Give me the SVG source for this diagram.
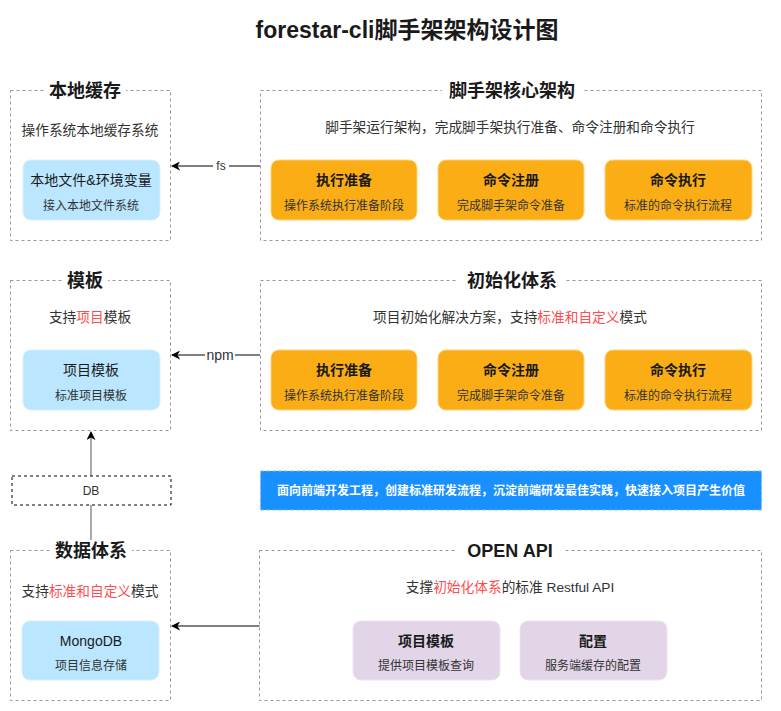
<svg xmlns="http://www.w3.org/2000/svg" width="781" height="711" viewBox="0 0 781 711">
<defs>
<style>
text{font-family:"Liberation Sans","Noto Sans CJK SC",sans-serif;text-anchor:middle;fill:#1a1a1a}
.cont{fill:#fff;stroke:#999;stroke-width:1;stroke-dasharray:3 3}
.ttl{font-size:18px;font-weight:bold}
.desc{font-size:13.7px;fill:#333}
.red{fill:#FF4D4F}
.blue{fill:#BAE7FF;stroke:#d6f0ff}
.org{fill:#FAAD14;stroke:#FFD27A}
.pur{fill:#E1D5E7;stroke:#ECE4F0}
.bt{font-size:14px;fill:#1a1a1a}
.bb{font-size:14px;font-weight:bold;fill:#1a1a1a}
.bs{font-size:12px;fill:#333}
.conn{stroke:#000;stroke-width:1;fill:none}
.lbl{font-size:12px;fill:#333}
</style>
<marker id="arr" viewBox="0 0 10 10" refX="9" refY="5" markerWidth="9" markerHeight="9" orient="auto-start-reverse" markerUnits="userSpaceOnUse">
<path d="M0,0 L10,5 L0,10 L3,5 Z" fill="#000"/>
</marker>
</defs>
<rect width="781" height="711" fill="#fff"/>
<text x="407" y="38" style="font-size:23px;font-weight:bold">forestar-cli脚手架架构设计图</text>

<g id="connectors">
<line class="conn" x1="260" y1="166" x2="172" y2="166" marker-end="url(#arr)"/>
<rect x="213" y="159" width="16" height="14" fill="#fff"/>
<text class="lbl" x="221" y="170">fs</text>
<line class="conn" x1="260" y1="355" x2="172" y2="355" marker-end="url(#arr)"/>
<rect x="205" y="347" width="30" height="16" fill="#fff"/>
<text class="lbl" x="220" y="360" style="font-size:14px">npm</text>
<line class="conn" x1="260" y1="626" x2="172" y2="626" marker-end="url(#arr)"/>
<line x1="91" y1="476" x2="91" y2="432" stroke="#555" stroke-width="1" marker-end="url(#arr)"/>
<line x1="91" y1="540" x2="91" y2="505" stroke="#555" stroke-width="1"/>
</g>

<g id="local-cache">
<rect class="cont" x="10.5" y="90.5" width="160" height="150"/>
<rect x="44" y="80" width="82" height="20" fill="#fff"/>
<text class="ttl" x="85" y="97">本地缓存</text>
<text class="desc" x="90" y="135">操作系统本地缓存系统</text>
<rect class="blue" x="23" y="160" width="137" height="60" rx="8"/>
<text class="bt" x="91" y="185">本地文件&amp;环境变量</text>
<text class="bs" x="91" y="210">接入本地文件系统</text>
</g>

<g id="core">
<rect class="cont" x="260.5" y="90.5" width="501" height="150"/>
<rect x="442" y="80" width="140" height="20" fill="#fff"/>
<text class="ttl" x="512" y="97">脚手架核心架构</text>
<text class="desc" x="510" y="132">脚手架运行架构，完成脚手架执行准备、命令注册和命令执行</text>
<rect class="org" x="271" y="160" width="146" height="60" rx="8"/>
<text class="bb" x="344" y="185">执行准备</text>
<text class="bs" x="344" y="210">操作系统执行准备阶段</text>
<rect class="org" x="438" y="160" width="146" height="60" rx="8"/>
<text class="bb" x="511" y="185">命令注册</text>
<text class="bs" x="511" y="210">完成脚手架命令准备</text>
<rect class="org" x="605" y="160" width="147" height="60" rx="8"/>
<text class="bb" x="678" y="185">命令执行</text>
<text class="bs" x="678" y="210">标准的命令执行流程</text>
</g>

<g id="template">
<rect class="cont" x="10.5" y="280.5" width="160" height="150"/>
<rect x="62" y="270" width="46" height="20" fill="#fff"/>
<text class="ttl" x="85" y="287">模板</text>
<text class="desc" x="90" y="322">支持<tspan class="red">项目</tspan>模板</text>
<rect class="blue" x="23" y="350" width="137" height="60" rx="8"/>
<text class="bt" x="91" y="375">项目模板</text>
<text class="bs" x="91" y="400">标准项目模板</text>
</g>

<g id="init">
<rect class="cont" x="260.5" y="280.5" width="501" height="150"/>
<rect x="458" y="270" width="108" height="20" fill="#fff"/>
<text class="ttl" x="512" y="287">初始化体系</text>
<text class="desc" x="510" y="322">项目初始化解决方案，支持<tspan class="red">标准和自定义</tspan>模式</text>
<rect class="org" x="271" y="350" width="146" height="60" rx="8"/>
<text class="bb" x="344" y="375">执行准备</text>
<text class="bs" x="344" y="400">操作系统执行准备阶段</text>
<rect class="org" x="438" y="350" width="146" height="60" rx="8"/>
<text class="bb" x="511" y="375">命令注册</text>
<text class="bs" x="511" y="400">完成脚手架命令准备</text>
<rect class="org" x="605" y="350" width="147" height="60" rx="8"/>
<text class="bb" x="678" y="375">命令执行</text>
<text class="bs" x="678" y="400">标准的命令执行流程</text>
</g>

<g id="db">
<rect x="12" y="476" width="159" height="29" fill="#fff" stroke="#000" stroke-dasharray="3 3"/>
<text class="lbl" x="91" y="495">DB</text>
</g>

<g id="banner">
<rect x="260.5" y="471" width="501" height="39" fill="#1890FF" stroke="#7fb8f0" stroke-dasharray="3 3"/>
<text x="511" y="495" style="font-size:12px;font-weight:bold;fill:#fff">面向前端开发工程，创建标准研发流程，沉淀前端研发最佳实践，快速接入项目产生价值</text>
</g>

<g id="data">
<rect class="cont" x="10.5" y="550.5" width="160" height="150"/>
<rect x="50" y="540" width="82" height="20" fill="#fff"/>
<text class="ttl" x="91" y="557">数据体系</text>
<text class="desc" x="90" y="596">支持<tspan class="red">标准和自定义</tspan>模式</text>
<rect class="blue" x="22" y="621" width="137" height="59" rx="8"/>
<text class="bt" x="91" y="646">MongoDB</text>
<text class="bs" x="91" y="670">项目信息存储</text>
</g>

<g id="openapi">
<rect class="cont" x="259.5" y="550.5" width="502" height="150"/>
<rect x="456" y="540" width="108" height="20" fill="#fff"/>
<text class="ttl" x="510" y="557">OPEN API</text>
<text class="desc" x="510" y="592">支撑<tspan class="red">初始化体系</tspan>的标准 Restful API</text>
<rect class="pur" x="353" y="621" width="147" height="59" rx="8"/>
<text class="bb" x="426" y="646">项目模板</text>
<text class="bs" x="426" y="670">提供项目模板查询</text>
<rect class="pur" x="520" y="621" width="147" height="59" rx="8"/>
<text class="bb" x="593" y="646">配置</text>
<text class="bs" x="593" y="670">服务端缓存的配置</text>
</g>
</svg>
